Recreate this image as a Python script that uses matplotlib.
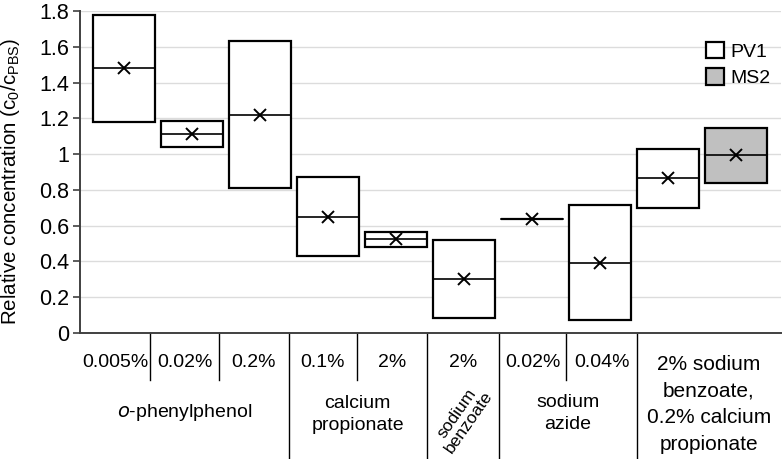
import matplotlib
matplotlib.use("Agg")
import matplotlib.pyplot as plt
from matplotlib.patches import Rectangle, Patch
import matplotlib.transforms as mtransforms

plt.rcParams['font.family'] = ['Liberation Sans', 'DejaVu Sans']

# ---- data ----
series = ["PV1", "PV1", "PV1", "PV1", "PV1", "PV1", "PV1", "PV1", "PV1", "MS2"]
box_min = [1.18, 1.04, 0.81, 0.43, 0.48, 0.085, 0.64, 0.07, 0.70, 0.84]
box_max = [1.78, 1.185, 1.635, 0.87, 0.565, 0.52, 0.64, 0.715, 1.03, 1.145]
medians = [1.48, 1.11, 1.22, 0.65, 0.525, 0.30, 0.64, 0.39, 0.865, 0.995]
means = [1.48, 1.11, 1.22, 0.65, 0.525, 0.30, 0.64, 0.39, 0.865, 0.995]

conc_labels = ["0.005%", "0.02%", "0.2%", "0.1%", "2%", "2%", "0.02%", "0.04%"]
group_labels = ["$\\it{o}$-phenylphenol", "calcium\npropionate", "sodium\nbenzoate",
                "sodium\nazide", "2% sodium\nbenzoate,\n0.2% calcium\npropionate"]
yticks = [0, 0.2, 0.4, 0.6, 0.8, 1, 1.2, 1.4, 1.6, 1.8]
ytick_labels = ["0", "0.2", "0.4", "0.6", "0.8", "1", "1.2", "1.4", "1.6", "1.8"]

fill_colors = {"PV1": "white", "MS2": "#c0c0c0"}

# ---- layout ----
fig = plt.figure(figsize=(7.84, 4.59), dpi=100)
ax = fig.add_axes([0.102, 0.2745, 0.894, 0.7015])

width = 0.91
for i in range(len(box_min)):
    h = box_max[i] - box_min[i]
    ax.add_patch(Rectangle((i - width / 2, box_min[i]), width, h,
                           facecolor=fill_colors[series[i]], edgecolor="black",
                           linewidth=1.6, zorder=3))
    ax.plot([i - width / 2, i + width / 2], [medians[i], medians[i]],
            color="black", linewidth=1.2, zorder=4)
    ax.plot(i, means[i], marker="x", markersize=9, markeredgewidth=1.4,
            color="black", zorder=5)

ax.set_xlim(-0.647, 9.66)
ax.set_ylim(0, 1.8)
ax.set_yticks(yticks)
ax.set_yticklabels(ytick_labels, fontsize=15.5)
ax.yaxis.grid(True, color="#dcdcdc", linewidth=1.0)
ax.set_axisbelow(True)
ax.tick_params(axis="y", direction="out", length=5, width=1.2, color="#404040", pad=3)
ax.set_xticks([])
for s in ["top", "right"]:
    ax.spines[s].set_visible(False)
for s in ["left", "bottom"]:
    ax.spines[s].set_color("#404040")
    ax.spines[s].set_linewidth(1.4)
ax.set_ylabel("Relative concentration (c$_\\mathregular{0}$/c$_\\mathregular{PBS}$)",
              fontsize=14.8)
ax.yaxis.set_label_coords(-0.082, 0.47)

# ---- category table under the axis ----
trans = mtransforms.blended_transform_factory(ax.transData, ax.transAxes)
bounds = [-0.647, 0.39, 1.40, 2.42, 3.43, 4.45, 5.515, 6.5, 7.545, 9.66]
long_sep = [3, 5, 6, 8]
short_sep = [1, 2, 4, 7]
for k in long_sep:
    ax.plot([bounds[k], bounds[k]], [0, -0.391], transform=trans, color="black",
            linewidth=1.0, clip_on=False)
for k in short_sep:
    ax.plot([bounds[k], bounds[k]], [0, -0.146], transform=trans, color="black",
            linewidth=1.0, clip_on=False)

for k, lab in enumerate(conc_labels):
    xc = (bounds[k] + bounds[k + 1]) / 2
    ax.text(xc, -0.093, lab, transform=trans, ha="center", va="center", fontsize=14)

group_spans = [(0, 3), (3, 5), (5, 6), (6, 8), (8, 9)]
group_y = [-0.246, -0.252, -0.262, -0.249, -0.222]
group_size = [14, 14, 12.5, 14, 15]
group_rot = [0, 0, 55, 0, 0]
group_ls = [1.2, 1.4, 1.0, 1.4, 1.5]
for g, (a, b) in enumerate(group_spans):
    xc = (bounds[a] + bounds[b]) / 2
    ax.text(xc, group_y[g], group_labels[g], transform=trans, ha="center",
            va="center", fontsize=group_size[g], rotation=group_rot[g],
            linespacing=group_ls[g])

# ---- legend ----
handles = [Patch(facecolor=fill_colors["PV1"], edgecolor="black", linewidth=1.6, label="PV1"),
           Patch(facecolor=fill_colors["MS2"], edgecolor="black", linewidth=1.6, label="MS2")]
ax.legend(handles=handles, loc="upper left", bbox_to_anchor=(0.893, 0.905), frameon=False,
          fontsize=14, handlelength=0.93, handleheight=0.93, handletextpad=0.35,
          labelspacing=0.4, borderaxespad=0, borderpad=0)

fig.savefig("out.png", dpi=100)
